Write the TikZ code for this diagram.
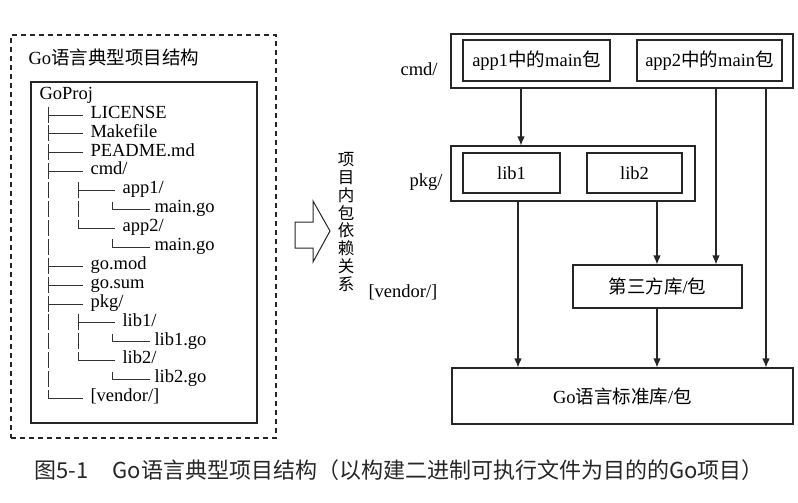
\documentclass[tikz,border=0pt]{standalone}
\usepackage{fontspec}
\setmainfont{Liberation Serif}
\newfontfamily\cjk{Noto Sans CJK SC}
\usetikzlibrary{arrows.meta}

\begin{document}
\begin{tikzpicture}[x=1pt,y=-1pt,line width=1.1pt,
  box/.style={draw=black!85,inner sep=0pt,font=\fontsize{18.5}{19}\selectfont},
  lbl/.style={inner sep=0pt,font=\fontsize{18.5}{19}\selectfont},
  dep/.style={draw=black!85,-{Latex[length=9pt,width=7.5pt]}},
  tree/.style={draw=black!80,line width=1pt}]
\useasboundingbox (0,0) rectangle (798,503);

% ---------- left panel: project layout ----------
\node[draw=black!85,dashed,dash pattern=on 5pt off 4pt,minimum width=265,minimum height=403,inner sep=0pt] (panel) at (143.5,236.5) {};
\node[lbl,anchor=base west] (title) at (28,65) {Go{\cjk 语言典型项目结构}};
\node[draw=black!85,minimum width=226,minimum height=341,inner sep=0pt] (treebox) at (144,252.5) {};
\node[lbl,anchor=mid west] (root) at (39,97) {GoProj};

% entries: row / level / text
\foreach \i/\lv/\txt in {1/1/{LICENSE},2/1/{Makefile},3/1/{PEADME.md},4/1/{cmd/},
    5/2/{app1/},6/3/{main.go},7/2/{app2/},8/3/{main.go},9/1/{go.mod},10/1/{go.sum},
    11/1/{pkg/},12/2/{lib1/},13/3/{lib1.go},14/2/{lib2/},15/3/{lib2.go},16/1/{[vendor/]}}{
  \pgfmathsetmacro{\yy}{116+(\i-1)*18.9}
  \ifcase\lv\or
    \def\vx{48}\def\tx{90}\def\hx{83}\or
    \def\vx{78}\def\tx{122}\def\hx{115}\or
    \def\vx{112}\def\tx{154}\def\hx{150}\fi
  \node[lbl,anchor=mid west] (e\i) at (\tx,\yy) {\txt};
  \draw[tree] (\vx,\yy-1) -- (\hx,\yy-1);
}
% level-1 trunk
\foreach \i in {1,...,15}{
  \pgfmathsetmacro{\yy}{116+(\i-1)*18.9}
  \draw[tree] (48,\yy-9.5) -- (48,\yy+6.5);
}
\draw[tree] (48,116+15*18.9-9.5) -- (48,116+15*18.9-1);
% level-2 trunks (cmd/, pkg/)
\foreach \a in {5,12}{
  \pgfmathsetmacro{\ya}{116+(\a-1)*18.9}
  \draw[tree] (78,\ya-9.5) -- (78,\ya+6.5);
  \draw[tree] (78,\ya+18.9-9.5) -- (78,\ya+18.9+6.5);
  \draw[tree] (78,\ya+2*18.9-9.5) -- (78,\ya+2*18.9-1);
}
% level-3 corners
\foreach \i in {6,8,13,15}{
  \pgfmathsetmacro{\yy}{116+(\i-1)*18.9}
  \draw[tree] (112,\yy-9) -- (112,\yy-1);
}

% ---------- hollow arrow and vertical caption ----------
\draw[draw=black!85,line width=1pt,line join=miter] (295,222) -- (313,222) -- (313,201) -- (330,231)
  -- (313,262) -- (313,248) -- (295,248) -- cycle;
\node[inner sep=0pt,align=center,font=\cjk\fontsize{16.5}{17.9}\selectfont] (deps) at (346,222)
  {项\\目\\内\\包\\依\\赖\\关\\系};

% ---------- right panel: dependency layers ----------
\node[lbl,anchor=base west] (cmdlbl) at (400,75) {cmd/};
\node[lbl,anchor=base west] (pkglbl) at (409,186) {pkg/};
\node[lbl,anchor=base west] (vendlbl) at (368,297) {[vendor/]};

\node[box,minimum width=342,minimum height=54] (cmd) at (622,61) {};
\node[box,minimum width=147,minimum height=41] (app1) at (536.5,60.5) {app1{\cjk 中的}main{\cjk 包}};
\node[box,minimum width=145,minimum height=41] (app2) at (709.5,60.5) {app2{\cjk 中的}main{\cjk 包}};

\node[box,minimum width=244,minimum height=55] (pkg) at (573,173.5) {};
\node[box,minimum width=97,minimum height=40] (lib1) at (511.5,173) {lib1};
\node[box,minimum width=95,minimum height=40] (lib2) at (634.5,173) {lib2};

\node[box,minimum width=169,minimum height=43] (third) at (657.5,286.5) {{\cjk 第三方库}/{\cjk 包}};
\node[box,minimum width=341,minimum height=56] (std) at (622.5,396) {Go{\cjk 语言标准库}/{\cjk 包}};

\coordinate (xa) at (521,0);
\coordinate (xb) at (518,0);
\coordinate (xc) at (657,0);
\coordinate (xd) at (716,0);
\coordinate (xe) at (766,0);

\draw[dep] (cmd.south -| xa) -- (pkg.north -| xa);
\draw[dep] (pkg.south -| xb) -- (std.north -| xb);
\draw[dep] (pkg.south -| xc) -- (third.north -| xc);
\draw[dep] (cmd.south -| xd) -- (third.north -| xd);
\draw[dep] (cmd.south -| xe) -- (std.north -| xe);
\draw[dep] (third.south -| xc) -- (std.north -| xc);

% ---------- figure caption ----------
\node[anchor=base west,inner sep=0pt,text=black!85,font=\cjk\fontsize{22}{24}\selectfont] (caption) at (34,478)
  {图5-1\hspace{24pt}Go语言典型项目结构（以构建二进制可执行文件为目的的Go项目）};
\end{tikzpicture}
\end{document}
